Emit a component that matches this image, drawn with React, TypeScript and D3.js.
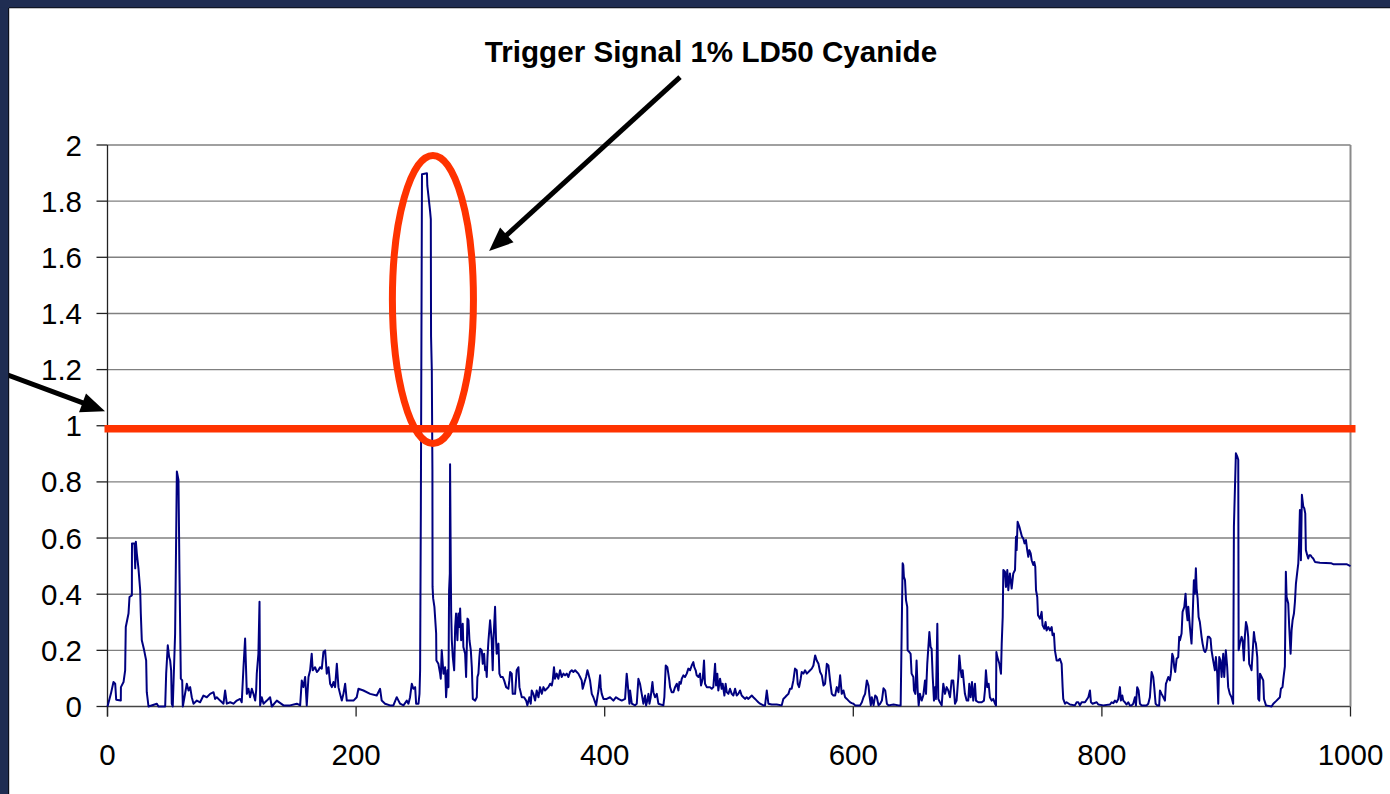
import React from "react";
import * as d3 from "d3";

const yTicks = [0, 0.2, 0.4, 0.6, 0.8, 1, 1.2, 1.4, 1.6, 1.8, 2];
const xTicks = [0, 200, 400, 600, 800, 1000];
const threshold = 1;
const title = "Trigger Signal 1% LD50 Cyanide";

const signal: [number, number][] = [
  [0,0],[2.7,0.045],[4.8,0.087],[6.2,0.081],[7.0,0.024],[10.7,0.021],[10.8,0.069],[12.9,0.087],[14.2,0.129],[14.7,0.283],[16.9,0.331],[17.7,0.39],[19.6,0.396],[19.7,0.581],[21.7,0.581],[22.3,0.492],[22.8,0.587],[23.6,0.545],[24.9,0.492],[26.3,0.414],[26.8,0.331],[27.6,0.236],[29.5,0.2],[31.1,0.164],[31.6,0.051],[33.0,0],[39.7,0.01],[41.0,0],[46.4,0],[47.2,0.117],[48.5,0.218],[49.6,0.176],[50.4,0.164],[51.2,0.129],[51.7,0.01],[52.5,0],[54.4,0.26],[55.8,0.837],[57.1,0.807],[57.9,0.474],[59.0,0.099],[60.1,0.093],[60.6,0],[63.8,0.081],[65.2,0.057],[66.5,0.069],[67.8,0.033],[69.2,0.01],[71.9,0.021],[74.5,0.015],[77.2,0.039],[79.9,0.033],[82.6,0.045],[85.3,0.051],[86.6,0.027],[87.9,0.033],[90.6,0.021],[93.3,0.01],[94.6,0.057],[96.0,0.01],[98.7,0.015],[101.3,0.01],[104.0,0.021],[106.7,0.027],[108.0,0.015],[109.4,0.14],[110.7,0.242],[112.1,0.045],[113.4,0.063],[114.7,0.033],[116.1,0.063],[117.4,0.045],[118.8,0.021],[119.6,0.057],[120.1,0.117],[121.4,0.188],[122.3,0.373],[122.8,0.004],[124.1,0.033],[125.5,0.01],[128.2,0.021],[130.8,0.033],[132.2,0],[136.2,0.021],[141.6,0.004],[146.9,0.004],[152.3,0.01],[155.0,0.004],[156.3,0.093],[157.6,0.069],[159.0,0.105],[160.3,0.004],[161.7,0.105],[163.0,0.129],[164.3,0.188],[165.1,0.129],[167.0,0.14],[168.4,0.123],[169.7,0.129],[171.0,0.14],[172.4,0.135],[173.7,0.194],[175.1,0.2],[176.4,0.117],[177.8,0.14],[179.1,0.081],[180.5,0.069],[181.8,0.087],[183.1,0.069],[184.5,0.152],[185.8,0.069],[187.1,0.045],[188.5,0.021],[189.8,0.045],[191.2,0.081],[192.5,0.021],[197.9,0.021],[200.5,0.033],[201.9,0.063],[205.9,0.057],[211.3,0.045],[216.6,0.039],[219.3,0.063],[220.6,0.021],[223.3,0.01],[227.3,0.004],
  [230.0,0.004],[232.7,0.033],[234.1,0.021],[235.4,0.01],[238.1,0.004],[240.8,0.021],[242.1,0.01],[243.4,0.033],[244.8,0.081],[246.1,0.063],[247.5,0.069],[248.3,0.01],[250.2,0.01],[251.0,0.045],[251.5,0.129],[252.1,0.712],[253.0,1.896],[257.0,1.899],[257.3,1.855],[258.2,1.819],[259.5,1.765],[260.1,1.736],[260.3,1.319],[260.9,1.2],[261.4,0.843],[261.5,0.426],[262.0,0.385],[263.0,0.355],[264.4,0.26],[264.6,0.164],[266.2,0.152],[267.6,0.117],[268.1,0.099],[268.9,0.2],[270.3,0.117],[271.6,0.14],[272.4,0.033],[272.9,0.069],[273.5,0.129],[274.3,0.069],[274.8,0.414],[275.4,0.474],[275.6,0.863],[276.2,0.474],[276.5,0.331],[277.0,0.236],[277.8,0.176],[278.9,0.129],[279.7,0.283],[280.4,0.331],[281.5,0.236],[282.3,0.331],[283.1,0.283],[283.7,0.349],[284.5,0.236],[285.8,0.295],[286.3,0.212],[287.7,0.188],[288.5,0.105],[289.6,0.313],[290.4,0.307],[291.2,0.236],[292.3,0.2],[293.1,0.14],[293.9,0.027],[295.8,0.021],[297.1,0.033],[297.6,0.105],[298.4,0.117],[299.2,0.176],[299.8,0.206],[301.1,0.2],[301.9,0.152],[303.0,0.188],[303.8,0.129],[304.6,0.14],[305.1,0.105],[305.7,0.176],[306.5,0.236],[307.8,0.307],[309.1,0.236],[309.9,0.129],[310.5,0.236],[311.8,0.355],[312.6,0.236],[313.1,0.188],[314.5,0.224],[315.3,0.117],[316.4,0.105],[318.0,0.105],[319.1,0.093],[320.7,0.069],[322.5,0.063],[323.3,0.093],[323.9,0.123],[325.2,0.117],[326.0,0.045],[327.9,0.045],[329.2,0.129],[330.6,0.14],[331.4,0.069],[333.3,0.033],[335.1,0.033],[336.8,0.021],[337.8,0.004],[339.4,0.033],[340.5,0.01],[341.3,0.057],[342.6,0.045],[344.0,0.021],[345.3,0.057],[346.7,0.033],[348.0,0.069],[349.4,0.045],[350.7,0.069],[352.0,0.057],[353.4,0.063],[354.7,0.069],[356.1,0.081],[357.4,0.075],[358.2,0.093],[359.2,0.14],[360.0,0.099],[361.4,0.117],[362.7,0.099],[364.1,0.129],[365.4,0.105],[366.8,0.117],[368.1,0.111],[369.5,0.117],[370.8,0.105],[372.1,0.123],[373.5,0.129],[374.8,0.123],[376.2,0.129],[377.5,0.123],[378.8,0.117],[380.2,0.105],[381.5,0.093],[382.3,0.063],[383.4,0.081],[385.0,0.105],[386.1,0.129],[386.9,0.117],[388.2,0.093],[389.6,0.045],[390.9,0.033],[393.1,0.004],[394.1,0.033],[395.0,0.057],[396.3,0.111],[396.8,0.069],[397.6,0.045],[399.0,0.027],[401.6,0.027],[404.3,0.033],[407.0,0.021],[409.1,0.033],[411.0,0.027],[413.7,0.021],[416.4,0.027],[417.7,0.117],[418.5,0.081],[419.9,0.01],
  [420.4,0.057],[421.8,0.01],[424.4,0.004],[425.8,0.01],[427.1,0.099],[428.4,0.081],[429.8,0.045],[431.1,0.01],[432.5,0.039],[433.3,0.004],[434.3,0.021],[435.2,0.045],[436.0,0.01],[437.0,0.033],[438.4,0.087],[439.2,0.051],[440.5,0.033],[441.9,0.045],[443.2,0.01],[447.2,0.004],[448.0,0.033],[449.1,0.146],[450.4,0.14],[452.0,0.093],[452.6,0.069],[453.9,0.051],[455.3,0.051],[456.6,0.069],[458.0,0.081],[459.3,0.057],[460.1,0.087],[461.2,0.081],[462.0,0.099],[463.3,0.111],[464.6,0.105],[466.0,0.117],[467.3,0.135],[468.7,0.129],[470.0,0.146],[471.3,0.158],[472.1,0.14],[473.2,0.129],[474.0,0.111],[475.4,0.105],[476.7,0.117],[477.5,0.075],[478.9,0.099],[479.9,0.164],[480.7,0.081],[482.1,0.069],[484.7,0.069],[486.1,0.063],[487.4,0.069],[488.8,0.152],[489.6,0.075],[490.6,0.117],[491.4,0.057],[492.8,0.099],[494.1,0.063],[494.9,0.081],[496.3,0.039],[497.3,0.081],[498.2,0.051],[499.5,0.045],[500.8,0.063],[502.2,0.045],[503.5,0.039],[504.9,0.063],[506.2,0.039],[507.5,0.045],[508.9,0.057],[510.2,0.039],[511.6,0.033],[512.9,0.027],[514.2,0.033],[515.6,0.027],[516.9,0.033],[518.3,0.039],[519.6,0.033],[521.0,0.027],[522.3,0.021],[523.6,0.015],[525.0,0.01],[527.7,0.004],[529.0,0.004],[530.4,0.057],[531.7,0.01],[534.4,0.007],[538.4,0.007],[542.4,0.004],[543.7,0.027],[545.1,0.033],[546.4,0.039],[547.8,0.045],[549.1,0.063],[550.4,0.063],[551.8,0.093],[553.1,0.135],[554.5,0.129],[555.3,0.081],[556.4,0.069],[557.7,0.099],[558.5,0.123],[559.9,0.117],[561.2,0.129],[562.6,0.117],[565.3,0.129],[566.6,0.135],[567.9,0.146],[569.3,0.182],[570.6,0.164],[572.0,0.152],[573.3,0.123],[574.7,0.111],[576.0,0.075],[577.3,0.081],[578.7,0.152],[580.0,0.146],[581.3,0.093],[582.7,0.045],[584.0,0.039],[585.4,0.039],[586.7,0.069],[588.1,0.051],[589.4,0.111],[590.7,0.045],[592.1,0.057],[593.4,0.033],[594.8,0.027],[596.1,0.021],[597.5,0.015],[598.8,0.012],[600.1,0.01],[601.5,0.004],[605.5,0.004],[606.9,0.015],[608.2,0.033],[609.5,0.045],[610.9,0.093],[612.2,0.075],[613.0,0.039],[614.1,0.004],[614.9,0.033],[616.3,0.004],[617.6,0.039],[618.9,0.033],[620.3,0.004],[621.6,0.01],[623.0,0.021],[624.3,0.065],[625.7,0.057],[627.0,0.01],[628.3,0.004],[632.4,0.007],[636.4,0.004],[638.1,0.004],
  [638.9,0.26],[639.7,0.51],[640.2,0.504],[640.7,0.462],[641.6,0.45],[642.4,0.379],[643.4,0.355],[643.7,0.2],[645.1,0.194],[646.1,0.188],[646.9,0.117],[648.3,0.105],[648.8,0.057],[649.9,0.045],[650.9,0.164],[651.8,0.057],[652.6,0.004],[653.6,0.045],[655.0,0.021],[656.3,0.039],[657.7,0.093],[658.5,0.045],[659.5,0.152],[661.2,0.265],[662.2,0.212],[663.0,0.206],[663.9,0.105],[664.9,0.021],[665.7,0.069],[666.5,0.027],[667.6,0.295],[668.4,0.027],[669.7,0.015],[671.1,0.004],[672.4,0.081],[673.8,0.045],[675.1,0.069],[676.4,0.057],[677.8,0.033],[679.1,0.093],[680.4,0.093],[681.8,0.01],[683.1,0.021],[684.5,0.105],[685.3,0.182],[686.4,0.129],[687.2,0.105],[688.0,0.129],[689.0,0.081],[689.8,0.045],[691.2,0.021],[692.5,0.021],[693.3,0.081],[694.4,0.033],[695.5,0.087],[696.5,0.021],[697.9,0.081],[698.7,0.021],[700.6,0.015],[703.3,0.015],[705.1,0.021],[705.9,0.057],[706.7,0.129],[707.8,0.069],[708.9,0.081],[709.9,0.033],[711.3,0.021],[712.6,0.027],[714.0,0.01],[714.8,0.004],[715.1,0.194],[715.9,0.176],[717.5,0.152],[718.8,0.117],[719.4,0.224],[720.2,0.319],[720.7,0.486],[722.0,0.48],[722.8,0.426],[723.9,0.486],[724.7,0.414],[726.0,0.474],[727.4,0.42],[728.7,0.474],[730.1,0.486],[730.9,0.605],[731.4,0.557],[732.2,0.658],[733.6,0.64],[734.6,0.623],[735.7,0.605],[736.7,0.599],[737.8,0.581],[738.9,0.593],[739.9,0.557],[740.8,0.533],[741.6,0.557],[742.7,0.545],[743.5,0.521],[744.8,0.504],[745.6,0.515],[746.4,0.498],[747.0,0.414],[748.0,0.39],[748.6,0.325],[750.2,0.313],[751.5,0.337],[752.3,0.289],[753.7,0.277],[754.7,0.301],[755.5,0.271],[756.9,0.283],[758.2,0.271],[759.6,0.283],[760.3,0.254],[761.4,0.26],[762.2,0.2],[763.6,0.164],[764.9,0.164],[766.2,0.17],[767.6,0.152],[768.4,0.069],[768.9,0.027],[770.3,0.01],[771.6,0.015],[774.3,0.007],[778.3,0.004],[779.7,0.015],[781.0,0.015],[782.3,0.004],[783.7,0.015],[786.4,0.015],[789.1,0.033],[790.4,0.057],[791.2,0.015],[792.5,0.01],[795.8,0.015],[797.1,0.007],[801.1,0.004],[806.5,0.007],[807.8,0.015],[809.2,0.012],[810.5,0.021],[811.8,0.015],[813.2,0.027],[814.5,0.069],[815.3,0.021],[816.4,0.039],[817.2,0.021],[818.5,0.015],[819.9,0.007],[821.2,0.015],[822.5,0.004],
  [823.9,0.004],[825.2,0.01],[826.6,0.033],[827.4,0.004],[828.4,0.069],[829.5,0.057],[830.6,0.01],[831.9,0.004],[836.0,0.004],[837.3,0.01],[838.6,0.033],[840.0,0.123],[841.3,0.105],[842.1,0.069],[843.2,0.01],[844.5,0.004],[846.1,0.004],[846.7,0.057],[848.0,0.045],[849.4,0.033],[850.7,0.021],[851.5,0.081],[852.0,0.087],[853.4,0.105],[854.7,0.093],[855.5,0.117],[856.6,0.188],[857.4,0.176],[858.2,0.14],[859.0,0.123],[860.1,0.17],[861.4,0.176],[862.2,0.248],[862.8,0.236],[864.1,0.26],[864.9,0.337],[866.3,0.355],[867.3,0.402],[868.1,0.337],[868.9,0.307],[869.5,0.355],[870.8,0.283],[872.1,0.224],[872.9,0.307],[874.0,0.45],[874.8,0.402],[875.6,0.492],[876.2,0.42],[877.0,0.385],[877.8,0.319],[878.8,0.301],[880.2,0.248],[881.0,0.224],[882.1,0.2],[883.1,0.194],[884.2,0.206],[885.2,0.248],[886.3,0.248],[887.4,0.242],[888.2,0.2],[889.5,0.164],[890.9,0.129],[891.7,0.176],[892.8,0.117],[893.6,0.01],[894.4,0.176],[895.4,0.164],[896.3,0.105],[897.6,0.188],[898.4,0.105],[899.7,0.2],[900.8,0.14],[901.6,0.069],[902.9,0.045],[904.3,0.033],[905.6,0.01],[906.2,0.64],[907.8,0.902],[908.9,0.89],[909.7,0.879],[910.0,0.2],[911.0,0.224],[912.4,0.248],[913.2,0.236],[914.2,0.164],[915.0,0.248],[915.9,0.301],[916.9,0.283],[917.7,0.248],[918.5,0.152],[919.6,0.14],[920.4,0.129],[921.2,0.188],[922.3,0.265],[923.1,0.236],[923.9,0.224],[925.0,0.176],[925.8,0.027],[926.6,0.021],[927.2,0.117],[928.5,0.105],[929.8,0.093],[930.4,0.027],[932.0,0.004],[936.5,0],[937.9,0.01],[940.5,0.021],[943.2,0.033],[944.0,0.063],[945.3,0.069],[945.9,0.095],[947.2,0.143],[948.0,0.48],[948.6,0.39],[949.9,0.367],[950.7,0.283],[951.8,0.188],[952.6,0.271],[953.4,0.307],[954.5,0.331],[955.3,0.373],[956.1,0.438],[957.2,0.48],[958.0,0.51],[958.6,0.581],[959.3,0.7],[960.1,0.521],[960.9,0.754],[962.0,0.712],[962.8,0.706],[963.6,0.688],[964.1,0.557],[965.2,0.539],[966.0,0.527],[966.8,0.539],[967.9,0.539],[968.7,0.533],[970.0,0.527],[971.4,0.515],[975.4,0.512],[984.7,0.51],[986.1,0.507],[996.8,0.507],[1000,0.5]
];

// annotation anchors, in data units
const ellipseCenter: [number, number] = [261.8, 1.45];
const ellipseRadii: [number, number] = [32.6, 0.513];
const topArrow = { from: [460.6, 2.242] as [number, number], to: [307, 1.622] as [number, number] };
const leftArrow = { from: [-92, 1.2] as [number, number], to: [-2, 1.052] as [number, number] };

const W = 1390;
const H = 794;
const FONT = "'Liberation Sans', Arial, Helvetica, sans-serif";

const x = d3.scaleLinear().domain([0, 1000]).range([107.5, 1350.5]);
const y = d3.scaleLinear().domain([0, 2]).range([706.5, 145]);

function Arrow({ from, to }: { from: [number, number]; to: [number, number] }) {
  const x1 = x(from[0]), y1 = y(from[1]), x2 = x(to[0]), y2 = y(to[1]);
  const ang = Math.atan2(y2 - y1, x2 - x1);
  const len = 24, half = 10;
  const bx = x2 - len * Math.cos(ang), by = y2 - len * Math.sin(ang);
  const px = -Math.sin(ang) * half, py = Math.cos(ang) * half;
  return (
    <g>
      <line x1={x1} y1={y1} x2={bx + 4 * Math.cos(ang)} y2={by + 4 * Math.sin(ang)} stroke="#000" strokeWidth={5} />
      <polygon points={`${x2},${y2} ${bx + px},${by + py} ${bx - px},${by - py}`} fill="#000" />
    </g>
  );
}

export default function App() {
  const line = d3.line<[number, number]>().x((d) => x(d[0])).y((d) => y(d[1]));
  return (
    <svg width={W} height={H} style={{ position: "fixed", left: 0, top: 0, background: "#fff" }} fontFamily={FONT}>
      <rect x={0} y={0} width={W} height={H} fill="#fff" />
      {/* frame */}
      <rect x={0} y={0} width={W} height={8} fill="#1f2d52" />
      <line x1={9} y1={7.7} x2={W} y2={7.7} stroke="#0c0f1a" strokeWidth={1.2} />

      {/* gridlines */}
      {yTicks.map((t) => (
        <line key={"g" + t} x1={x(0)} x2={x(1000)} y1={y(t)} y2={y(t)} stroke={t === 0 ? "#444" : "#808080"} strokeWidth={1.4} />
      ))}
      <line x1={x(1000)} x2={x(1000)} y1={y(2)} y2={y(0)} stroke="#8a8a8a" strokeWidth={2} />

      {/* y axis */}
      <line x1={x(0)} x2={x(0)} y1={y(2)} y2={y(0) + 10} stroke="#222" strokeWidth={1.3} />
      {yTicks.map((t) => (
        <g key={"y" + t}>
          <line x1={x(0) - 11} x2={x(0)} y1={y(t)} y2={y(t)} stroke="#222" strokeWidth={1.3} />
          <text x={82} y={y(t) + 10.5} textAnchor="end" fontSize={29.5} fill="#000">{t}</text>
        </g>
      ))}

      {/* x axis ticks */}
      {xTicks.map((t) => (
        <g key={"x" + t}>
          <line x1={x(t)} x2={x(t)} y1={y(0)} y2={y(0) + 10} stroke="#222" strokeWidth={1.3} />
          <text x={x(t)} y={765} textAnchor="middle" fontSize={29.5} fill="#000">{t}</text>
        </g>
      ))}

      {/* series */}
      <path d={line(signal) || ""} fill="none" stroke="#000080" strokeWidth={2} strokeLinejoin="round" />

      {/* threshold */}
      <line x1={x(0) - 3} x2={x(1000) + 5} y1={y(threshold) + 3} y2={y(threshold) + 3} stroke="#ff3300" strokeWidth={7.5} />

      {/* ellipse */}
      <ellipse
        cx={x(ellipseCenter[0])}
        cy={y(ellipseCenter[1])}
        rx={x(ellipseRadii[0]) - x(0)}
        ry={y(0) - y(ellipseRadii[1])}
        fill="none"
        stroke="#ff3300"
        strokeWidth={7}
      />

      {/* arrows */}
      <Arrow from={topArrow.from} to={topArrow.to} />
      <Arrow from={leftArrow.from} to={leftArrow.to} />
      {/* left frame drawn over the arrow tail */}
      <rect x={0} y={0} width={8} height={H} fill="#1f2d52" />
      <rect x={0} y={0} width={W} height={7.2} fill="#1f2d52" />
      <line x1={8.6} y1={8} x2={8.6} y2={H} stroke="#0c0f1a" strokeWidth={1.2} />

      {/* title */}
      <text x={711} y={62} textAnchor="middle" fontSize={29.6} fontWeight="bold" fill="#000">{title}</text>
    </svg>
  );
}
